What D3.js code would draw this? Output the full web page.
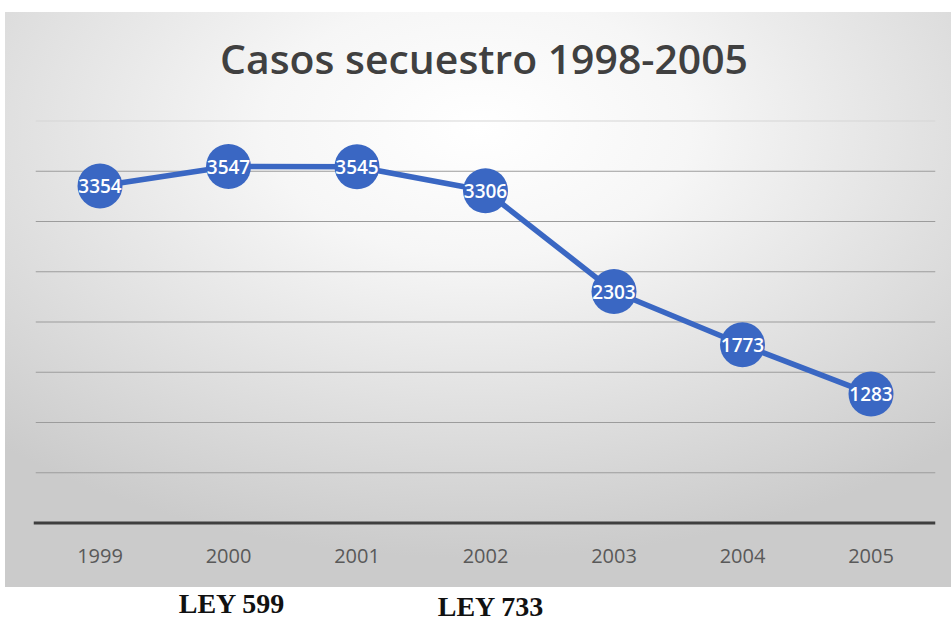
<!DOCTYPE html>
<html>
<head>
<meta charset="utf-8">
<script src="https://cdn.jsdelivr.net/npm/d3@7"></script>
<style>
  html, body { margin: 0; padding: 0; background: #ffffff; }
  svg { display: block; }
</style>
</head>
<body>
<div id="chart"></div>
<script>
// datos
var years = ["1999", "2000", "2001", "2002", "2003", "2004", "2005"];
var casos = [3354, 3547, 3545, 3306, 2303, 1773, 1283];
var yTicks = [0, 500, 1000, 1500, 2000, 2500, 3000, 3500, 4000];
var leyes = ["LEY 599", "LEY 733"];
var leyYears = ["2000", "2002"];

var width = 951;
var height = 622;
var plot = {left: 35.75, right: 935.25, top: 121, bottom: 523};

var svg = d3.select("#chart")
    .append("svg")
    .attr("width", width)
    .attr("height", height);

// fondo con degradado
var defs = svg.append("defs");
var grad = defs.append("radialGradient")
    .attr("id", "bg")
    .attr("cx", "50%")
    .attr("cy", "20%")
    .attr("r", "75%");
grad.append("stop").attr("offset", "0%").attr("stop-color", "#ffffff");
grad.append("stop").attr("offset", "30%").attr("stop-color", "#f6f6f6");
grad.append("stop").attr("offset", "100%").attr("stop-color", "#cbcbcb");

svg.append("rect")
    .attr("x", 5)
    .attr("y", 12)
    .attr("width", 946)
    .attr("height", 575)
    .attr("fill", "url(#bg)");

var x = d3.scaleBand()
    .domain(years)
    .range([plot.left, plot.right]);

var y = d3.scaleLinear()
    .domain([0, 4000])
    .range([plot.bottom, plot.top]);

// lineas de cuadricula
svg.append("g")
    .selectAll("line")
    .data(yTicks.slice(1))
    .enter()
    .append("line")
    .attr("x1", plot.left)
    .attr("x2", plot.right)
    .attr("y1", function (d) { return y(d); })
    .attr("y2", function (d) { return y(d); })
    .attr("stroke", function (d) { return d === 4000 ? "#d6d6d6" : "#9c9c9c"; })
    .attr("stroke-width", 1.2);

// eje x
svg.append("line")
    .attr("x1", plot.left - 2)
    .attr("x2", plot.right)
    .attr("y1", y(0))
    .attr("y2", y(0))
    .attr("stroke", "#3f3f3f")
    .attr("stroke-width", 3);

svg.append("g")
    .selectAll("text")
    .data(years)
    .enter()
    .append("text")
    .attr("x", function (d) { return x(d) + x.bandwidth() / 2; })
    .attr("y", 563)
    .attr("text-anchor", "middle")
    .attr("font-family", "'Open Sans', sans-serif")
    .attr("font-size", "20px")
    .attr("fill", "#595959")
    .text(function (d) { return d; });

// titulo
svg.append("text")
    .attr("x", 220)
    .attr("y", 74)
    .attr("textLength", 528)
    .attr("lengthAdjust", "spacingAndGlyphs")
    .attr("font-family", "'Open Sans', sans-serif")
    .attr("font-weight", 600)
    .attr("font-size", "39px")
    .attr("fill", "#404040")
    .text("Casos secuestro 1998-2005");

// linea
var pts = years.map(function (d, i) { return {year: d, value: casos[i]}; });
var line = d3.line()
    .x(function (d) { return x(d.year) + x.bandwidth() / 2; })
    .y(function (d) { return y(d.value); });

svg.append("path")
    .datum(pts)
    .attr("d", line)
    .attr("fill", "none")
    .attr("stroke", "#3a67c3")
    .attr("stroke-width", 5.5)
    .attr("stroke-linejoin", "round");

// marcadores
svg.append("g")
    .selectAll("circle")
    .data(pts)
    .enter()
    .append("circle")
    .attr("cx", function (d) { return x(d.year) + x.bandwidth() / 2; })
    .attr("cy", function (d) { return y(d.value); })
    .attr("r", 22.5)
    .attr("fill", "#3a67c3");

// etiquetas de datos
svg.append("g")
    .selectAll("text")
    .data(pts)
    .enter()
    .append("text")
    .attr("x", function (d) { return x(d.year) + x.bandwidth() / 2; })
    .attr("y", function (d) { return y(d.value) + 7; })
    .attr("text-anchor", "middle")
    .attr("font-family", "'Open Sans', sans-serif")
    .attr("font-weight", 600)
    .attr("font-size", "19px")
    .attr("fill", "#ffffff")
    .text(function (d) { return d.value; });

// leyes
svg.append("g")
    .selectAll("text")
    .data(leyes)
    .enter()
    .append("text")
    .attr("x", function (d, i) { return x(leyYears[i]) + x.bandwidth() / 2 + (i === 0 ? 3 : 5); })
    .attr("y", function (d, i) { return i === 0 ? 613 : 616; })
    .attr("text-anchor", "middle")
    .attr("font-family", "'Liberation Serif', serif")
    .attr("font-weight", "bold")
    .attr("font-size", "28px")
    .attr("fill", "#111111")
    .text(function (d) { return d; });
</script>
</body>
</html>
